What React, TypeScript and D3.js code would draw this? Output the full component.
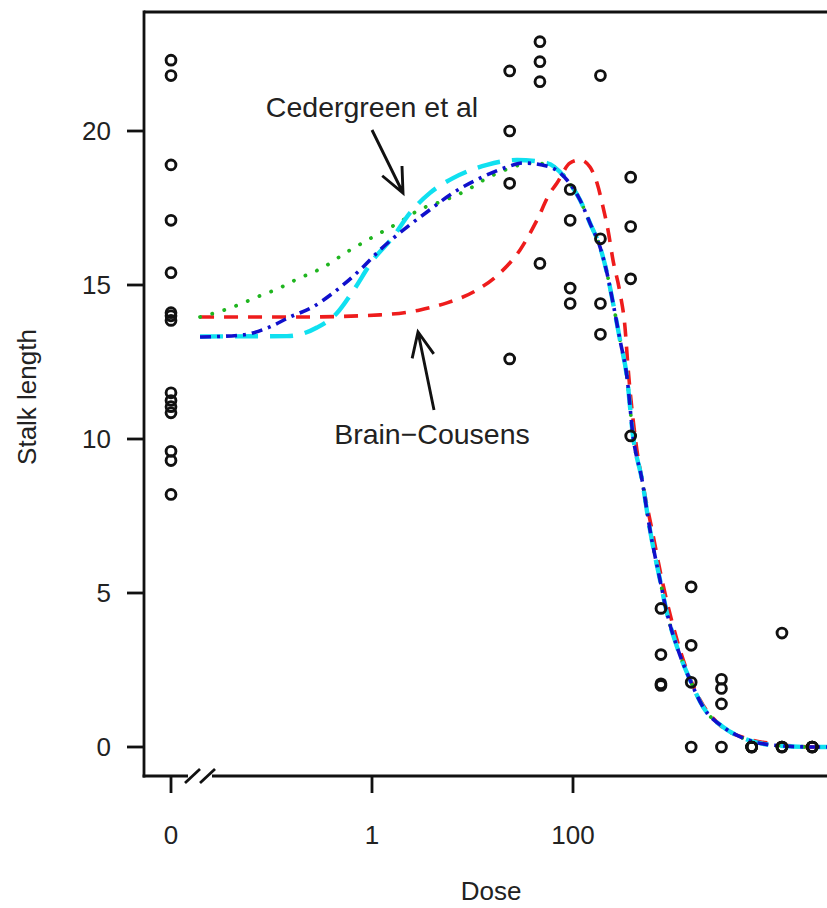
import React from "react";
import * as d3 from "d3";

// ---- observed data ----
const ctrlValues = [22.3, 21.8, 18.9, 17.1, 15.4, 14.1, 14.0, 13.85, 11.5, 11.25, 11.05, 10.85, 9.6, 9.3, 8.2];
const doseLevels = [23.4375, 46.875, 93.75, 187.5, 375, 750, 1500, 3000, 6000, 12000, 24000];
const doseValues = [
  [21.95, 20.0, 18.3, 12.6],
  [22.9, 22.25, 21.6, 15.7],
  [18.1, 17.1, 14.9, 14.4],
  [21.8, 16.5, 14.4, 13.4],
  [18.5, 16.9, 15.2, 10.1],
  [4.5, 3.0, 2.05, 2.0],
  [5.2, 3.3, 2.1, 0],
  [2.2, 1.9, 1.4, 0],
  [0, 0, 0, 0],
  [3.7, 0, 0, 0],
  [0, 0, 0, 0],
];

// ---- fitted curves ----
const sharedDose = [87.1, 117.5, 147.6, 185.8, 217.8, 250.0, 293.8, 344.4, 395.4, 486.4, 583.4, 734.5, 861.0, 1084, 1459, 1968, 3112, 4920, 9772, 24430, 40000];
const sharedVal = [18.41, 17.76, 17.01, 16.23, 15.39, 14.42, 13.21, 12.01, 10.1, 8.67, 7.05, 5.42, 4.35, 3.25, 2.18, 1.3, 0.65, 0.29, 0.06, 0.0, 0.0];

const greenDose = [0.01945, 0.03864, 0.07178, 0.1271, 0.1795, 0.3177, 0.5636, 1.023, 1.816, 3.214, 4.436, 8.81, 13.93, 18.79, 39.99, 69.34];
const greenVal = [13.96, 14.25, 14.61, 14.94, 15.19, 15.55, 16.07, 16.56, 17.01, 17.5, 17.66, 18.08, 18.47, 18.67, 18.96, 18.8];

const blueDose = [0.01945, 0.052, 0.09016, 0.1528, 0.2588, 0.4093, 0.7603, 1.202, 2.228, 3.524, 6.397, 11.89, 22.03, 31.77, 59.02];
const blueVal = [13.31, 13.38, 13.6, 13.96, 14.29, 14.74, 15.49, 16.14, 16.88, 17.37, 17.99, 18.47, 18.83, 18.96, 18.83];

const cyanDose = [0.01945, 0.1426, 0.2838, 0.4487, 0.6471, 1.023, 1.618, 2.388, 3.776, 6.397, 13.93, 27.73, 55.08];
const cyanVal = [13.33, 13.34, 13.62, 14.09, 14.8, 15.81, 16.56, 17.34, 17.99, 18.47, 18.9, 19.06, 18.96];

const redDose = [0.01945, 0.1923, 1.202, 3.006, 5.572, 11.09, 18.79, 29.72, 43.85, 59.02, 69.34, 93.33, 117.5, 147.6, 173.4, 199.1, 222.8, 250.0, 293.8, 328.9, 352.4, 414.0, 508.2, 610.9, 769.1, 1161, 1837, 2904, 5140, 10230, 24430, 40000];
const redVal = [13.96, 13.96, 14.03, 14.19, 14.42, 14.84, 15.39, 16.14, 17.11, 17.99, 18.31, 18.96, 19.06, 18.83, 18.31, 17.53, 16.79, 15.81, 14.74, 13.64, 12.34, 10.1, 8.34, 7.05, 5.42, 3.15, 1.53, 0.71, 0.29, 0.1, 0.0, 0.0];

const yTicks = [0, 5, 10, 15, 20];
const xTickDoses = [0, 1, 100];
const xTickLabels = ["0", "1", "100"];
const ZERO_POS = 0.01;

const FONT = "'Liberation Sans', Arial, Helvetica, sans-serif";

export default function App() {
  const W = 827, H = 908;
  const left = 144, top = 12, bottom = 776, right = 840;
  const x = d3.scaleLog().domain([0.01, 10000]).range([171, 774]);
  const y = d3.scaleLinear().domain([0, 20]).range([747, 131]);
  const xd = (d: number) => x(d === 0 ? ZERO_POS : d);

  const line = d3
    .line<[number, number]>()
    .x((p) => x(p[0]))
    .y((p) => y(p[1]))
    .curve(d3.curveMonotoneX);

  const mk = (ds: number[], vs: number[], shared: boolean) => {
    const pts: [number, number][] = ds.map((d, i) => [d, vs[i]]);
    if (shared) sharedDose.forEach((d, i) => pts.push([d, sharedVal[i]]));
    return line(pts) || "";
  };

  const points: { d: number; v: number }[] = [];
  ctrlValues.forEach((v) => points.push({ d: 0, v }));
  doseLevels.forEach((d, i) => doseValues[i].forEach((v) => points.push({ d, v })));

  const arrow = (x1: number, y1: number, x2: number, y2: number) => {
    const ang = Math.atan2(y2 - y1, x2 - x1);
    const L = 27, a = 0.42;
    const p1 = [x2 - L * Math.cos(ang - a), y2 - L * Math.sin(ang - a)];
    const p2 = [x2 - L * Math.cos(ang + a), y2 - L * Math.sin(ang + a)];
    return `M${x1},${y1}L${x2},${y2}M${p1[0]},${p1[1]}L${x2},${y2}L${p2[0]},${p2[1]}`;
  };

  return (
    <svg width={W} height={H} style={{ position: "absolute", left: 0, top: 0, background: "#fff" }}>
      <defs>
        <clipPath id="plotclip">
          <rect x={left} y={top} width={right - left} height={bottom - top} />
        </clipPath>
      </defs>
      <rect x={0} y={0} width={W} height={H} fill="#fff" />

      {/* curves */}
      <g clipPath="url(#plotclip)" fill="none">
        <path d={mk(redDose, redVal, false)} stroke="#ee1c1c" strokeWidth={3.6} strokeDasharray="14 10" />
        <path d={mk(greenDose, greenVal, true)} stroke="#1fb51f" strokeWidth={3.8} strokeDasharray="0.1 12.5" strokeLinecap="round" />
        <path d={mk(cyanDose, cyanVal, true)} stroke="#10e0f0" strokeWidth={4.4} strokeDasharray="23 12" />
        <path d={mk(blueDose, blueVal, true)} stroke="#1010cc" strokeWidth={3.6} strokeDasharray="11 6 3 6" />
      </g>

      {/* points */}
      <g fill="none" stroke="#111" strokeWidth={2.9}>
        {points.map((p, i) => (
          <circle key={i} cx={xd(p.d)} cy={y(p.v)} r={4.9} />
        ))}
      </g>

      {/* frame */}
      <g stroke="#111" strokeWidth={2.8} fill="none">
        <line x1={left} y1={top} x2={right} y2={top} />
        <line x1={left} y1={top - 1.4} x2={left} y2={bottom + 1.4} />
        <line x1={left - 1.4} y1={bottom} x2={188} y2={bottom} />
        <line x1={212} y1={bottom} x2={right} y2={bottom} />
        <line x1={185} y1={783} x2={200} y2={769} />
        <line x1={200} y1={783} x2={215} y2={769} />
        {yTicks.map((t) => (
          <line key={t} x1={left - 17} y1={y(t)} x2={left} y2={y(t)} />
        ))}
        {xTickDoses.map((t, i) => (
          <line key={i} x1={xd(t)} y1={bottom} x2={xd(t)} y2={bottom + 17} />
        ))}
      </g>

      {/* tick labels */}
      <g fontFamily={FONT} fontSize={26} fill="#222">
        {yTicks.map((t) => (
          <text key={t} x={111} y={y(t)} dy="0.36em" textAnchor="end">
            {t}
          </text>
        ))}
        {xTickDoses.map((t, i) => (
          <text key={i} x={xd(t)} y={844} textAnchor="middle">
            {xTickLabels[i]}
          </text>
        ))}
        <text x={491} y={900} textAnchor="middle">Dose</text>
        <text transform="translate(36,397) rotate(-90)" textAnchor="middle">Stalk length</text>
      </g>

      {/* annotations */}
      <g fontFamily={FONT} fontSize={28.5} fill="#222">
        <text x={372} y={117} textAnchor="middle">Cedergreen et al</text>
        <text x={432} y={444} textAnchor="middle">Brain−Cousens</text>
      </g>
      <g stroke="#111" strokeWidth={2.9} fill="none">
        <path d={arrow(372, 130, 403, 193)} />
        <path d={arrow(434, 410, 418, 332)} />
      </g>
    </svg>
  );
}
